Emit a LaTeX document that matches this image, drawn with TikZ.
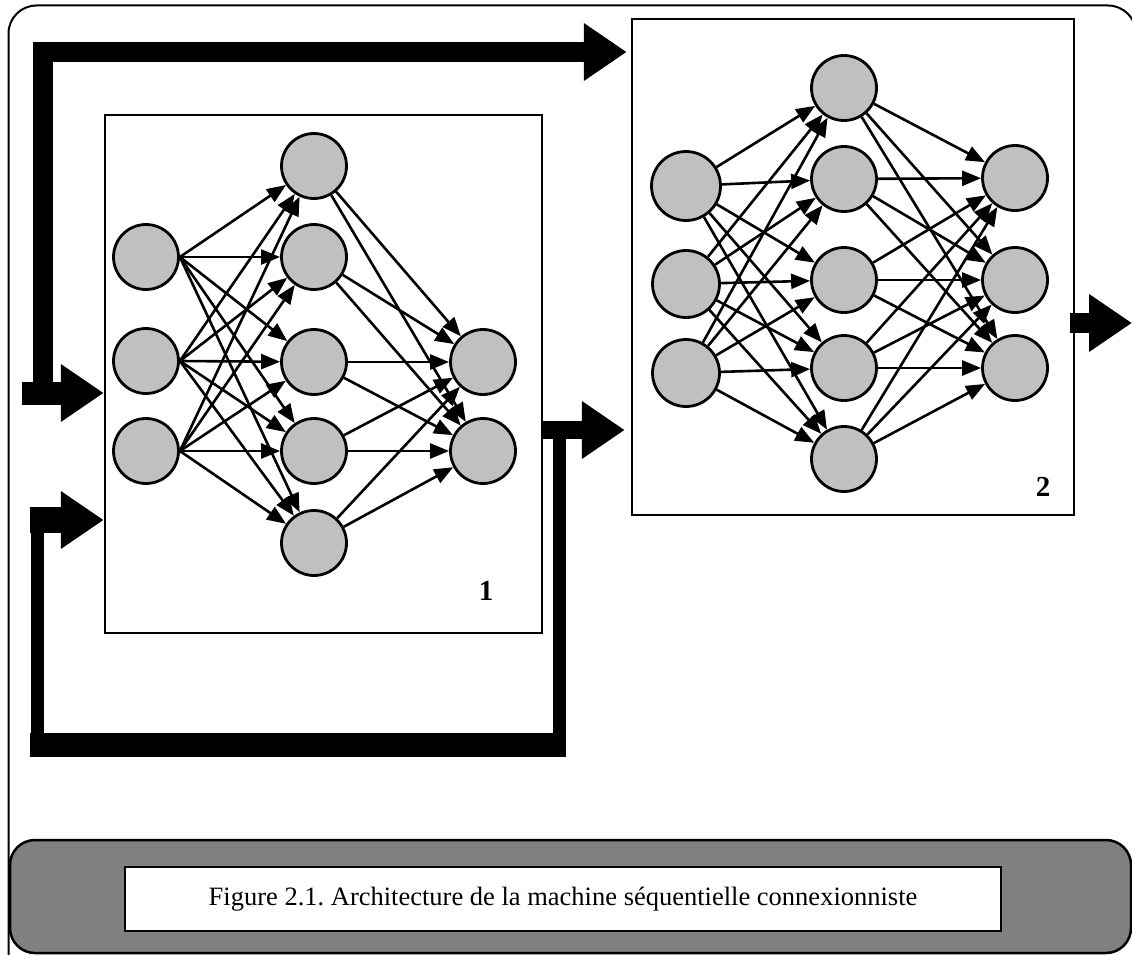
\documentclass[tikz,border=0pt]{standalone}
\usepackage{fontspec}
\setmainfont{Liberation Serif}
\usetikzlibrary{arrows.meta}
\definecolor{NeuronGray}{RGB}{192,192,192}
\definecolor{PanelGray}{RGB}{128,128,128}
\frenchspacing

\begin{document}
\begin{tikzpicture}[x=1pt,y=-1pt]
  \tikzset{NeuronStyle/.style = {
    shape         = circle,
    draw          = black,
    fill          = NeuronGray,
    line width    = 2.8pt,
    inner sep     = 0pt,
    minimum size  = 65pt
    }
  }
  \tikzset{BoxStyle/.style = {
    shape         = rectangle,
    draw          = black,
    line width    = 2.5pt,
    inner sep     = 0pt
    }
  }
  \tikzset{EdgeStyle/.style = {
    draw          = black,
    line width    = 2.6pt,
    -{Triangle[length=19pt,width=15pt]}
    }
  }
  \tikzset{BigArrowStyle/.style = {
    draw          = black,
    line cap      = butt,
    line join     = miter,
    -{Triangle[length=43pt,width=55pt]}
    }
  }
  \tikzset{NumberStyle/.style = {
    font          = \bfseries\fontsize{29}{32}\selectfont,
    inner sep     = 0pt
    }
  }

  \useasboundingbox (0,0) rectangle (1132,955);
  \clip (0,0) rectangle (1132,955);

  % outer frame
  \draw[line width=2pt, rounded corners=28pt] (8.5,5.5) rectangle (1136,990);

  % boxes of the two networks
  \node[BoxStyle, minimum width=437pt, minimum height=518pt](N1) at (323.5,374) {};
  \node[BoxStyle, minimum width=442pt, minimum height=496pt](N2) at (853,267) {};
  \node[NumberStyle](L1) at (486,591) {1};
  \node[NumberStyle](L2) at (1043,487) {2};

  % network 1
  \node[NeuronStyle](A1) at (146,257) {};
  \node[NeuronStyle](A2) at (146,361) {};
  \node[NeuronStyle](A3) at (146,451) {};
  \node[NeuronStyle](B1) at (314,166) {};
  \node[NeuronStyle](B2) at (314,257) {};
  \node[NeuronStyle](B3) at (314,362) {};
  \node[NeuronStyle](B4) at (314,451) {};
  \node[NeuronStyle](B5) at (314,543) {};
  \node[NeuronStyle](C1) at (483,362) {};
  \node[NeuronStyle](C2) at (483,451) {};
  %
  % network 2
  \node[NeuronStyle, minimum size=69pt](D1) at (686,186) {};
  \node[NeuronStyle, minimum size=67pt](D2) at (686,284) {};
  \node[NeuronStyle, minimum size=67pt](D3) at (686,373) {};
  \node[NeuronStyle](E1) at (844,88) {};
  \node[NeuronStyle](E2) at (844,179) {};
  \node[NeuronStyle](E3) at (844,280) {};
  \node[NeuronStyle](E4) at (844,368) {};
  \node[NeuronStyle](E5) at (844,459) {};
  \node[NeuronStyle](F1) at (1015,178) {};
  \node[NeuronStyle](F2) at (1015,280) {};
  \node[NeuronStyle](F3) at (1015,368) {};

  % caption panel
  \node[draw=black, fill=PanelGray, line width=2.5pt, rounded corners=25pt,
        minimum width=1121pt, minimum height=113pt](Panel) at (570.5,896.5) {};
  \node[BoxStyle, fill=white, minimum width=876pt, minimum height=64pt,
        font=\fontsize{26.5}{30}\selectfont](Caption) at (563,899)
        {Figure 2.1. Architecture de la machine séquentielle connexionniste};

  % input, feedback and output arrows
  \coordinate (In) at (22,393);
  \coordinate (Split) at (43,404);
  \coordinate (Out) at (1070,323);
  \draw[BigArrowStyle, line width=23pt](In) to (N1.west |- In);
  \draw[BigArrowStyle, line width=20pt, shorten >=4pt](Split) |- (N2.west |- 0,52);
  \draw[BigArrowStyle, line width=18pt, shorten >=6pt](N1.east |- 0,430) to (N2.west |- 0,430);
  \draw[line width=13pt, line join=miter](559,430) -- (559,745) -- (37.5,745) -- (37.5,520);
  \draw[line width=24pt](30,745) -- (566,745);
  \draw[BigArrowStyle, line width=26pt](30,520) to (N1.west |- 0,520);
  \draw[BigArrowStyle, line width=20pt](Out) to (1132,323);

  % edges of network 1
  \draw[EdgeStyle](A1.east) -- (B1);
  \draw[EdgeStyle](A1.east) -- (B2);
  \draw[EdgeStyle](A1.east) -- (B3);
  \draw[EdgeStyle](A1.east) -- (B4);
  \draw[EdgeStyle](A1.east) -- (B5);
  \draw[EdgeStyle](A2.east) -- (B1);
  \draw[EdgeStyle](A2.east) -- (B2);
  \draw[EdgeStyle](A2.east) -- (B3);
  \draw[EdgeStyle](A2.east) -- (B4);
  \draw[EdgeStyle](A2.east) -- (B5);
  \draw[EdgeStyle](A3.east) -- (B1);
  \draw[EdgeStyle](A3.east) -- (B2);
  \draw[EdgeStyle](A3.east) -- (B3);
  \draw[EdgeStyle](A3.east) -- (B4);
  \draw[EdgeStyle](A3.east) -- (B5);
  \draw[EdgeStyle](B1) -- (C1);
  \draw[EdgeStyle](B1) -- (C2);
  \draw[EdgeStyle](B2) -- (C1);
  \draw[EdgeStyle](B2) -- (C2);
  \draw[EdgeStyle](B3) -- (C1);
  \draw[EdgeStyle](B3) -- (C2);
  \draw[EdgeStyle](B4) -- (C1);
  \draw[EdgeStyle](B4) -- (C2);
  \draw[EdgeStyle](B5) -- (C1);
  \draw[EdgeStyle](B5) -- (C2);
  %
  % edges of network 2
  \draw[EdgeStyle](D1) -- (E1);
  \draw[EdgeStyle](D1) -- (E2);
  \draw[EdgeStyle](D1) -- (E3);
  \draw[EdgeStyle](D1) -- (E4);
  \draw[EdgeStyle](D1) -- (E5);
  \draw[EdgeStyle](D2) -- (E1);
  \draw[EdgeStyle](D2) -- (E2);
  \draw[EdgeStyle](D2) -- (E3);
  \draw[EdgeStyle](D2) -- (E4);
  \draw[EdgeStyle](D2) -- (E5);
  \draw[EdgeStyle](D3) -- (E1);
  \draw[EdgeStyle](D3) -- (E2);
  \draw[EdgeStyle](D3) -- (E3);
  \draw[EdgeStyle](D3) -- (E4);
  \draw[EdgeStyle](D3) -- (E5);
  \draw[EdgeStyle](E1) -- (F1);
  \draw[EdgeStyle](E1) -- (F2);
  \draw[EdgeStyle](E1) -- (F3);
  \draw[EdgeStyle](E2) -- (F1);
  \draw[EdgeStyle](E2) -- (F2);
  \draw[EdgeStyle](E2) -- (F3);
  \draw[EdgeStyle](E3) -- (F1);
  \draw[EdgeStyle](E3) -- (F2);
  \draw[EdgeStyle](E3) -- (F3);
  \draw[EdgeStyle](E4) -- (F1);
  \draw[EdgeStyle](E4) -- (F2);
  \draw[EdgeStyle](E4) -- (F3);
  \draw[EdgeStyle](E5) -- (F1);
  \draw[EdgeStyle](E5) -- (F2);
  \draw[EdgeStyle](E5) -- (F3);
\end{tikzpicture}
\end{document}
